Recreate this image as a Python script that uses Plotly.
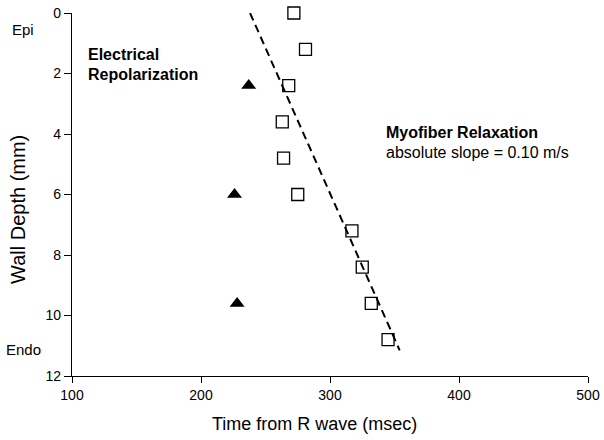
import plotly.graph_objects as go

# Data
myofiber_time = [272, 281, 268, 263, 264, 275, 317, 325, 332, 345]
myofiber_depth = [0.0, 1.2, 2.4, 3.6, 4.8, 6.0, 7.2, 8.4, 9.6, 10.8]
electrical_time = [237, 226, 228]
electrical_depth = [2.4, 6.0, 9.6]
fit_time = [238, 354]
fit_depth = [0.0, 11.15]

x_ticks = [100, 200, 300, 400, 500]
y_ticks = [0, 2, 4, 6, 8, 10, 12]

W, H = 604, 440
PL, PR, PT, PB = 72, 588, 13, 376          # plot area in window pixels
L, T, R, B = PL, PT, W - PR, H - PB
PW, PH = PR - PL, PB - PT


def px(x):
    return (x - PL) / PW


def py(y):
    return 1 - (y - PT) / PH


FONT = "Liberation Sans, Arial, sans-serif"

fig = go.Figure()
fig.add_trace(go.Scatter(
    x=fit_time, y=fit_depth, mode="lines", cliponaxis=False,
    line=dict(color="black", width=2, dash="8px,5px"),
    showlegend=False, hoverinfo="skip"))
fig.add_trace(go.Scatter(
    x=myofiber_time, y=myofiber_depth, mode="markers", cliponaxis=False,
    marker=dict(symbol="square-open", size=12, color="black", line=dict(width=1.3)),
    showlegend=False, name="Myofiber Relaxation"))
fig.add_trace(go.Scatter(
    x=electrical_time, y=electrical_depth, mode="markers", cliponaxis=False,
    marker=dict(symbol="triangle-up", size=13, color="black"),
    showlegend=False, name="Electrical Repolarization"))

ann = [
    dict(text="Epi", x=px(23), y=py(29), size=15, anchor="center"),
    dict(text="Endo", x=px(23), y=py(349), size=15, anchor="center"),
    dict(text="<b>Electrical</b>", x=px(86), y=py(54), size=16, anchor="left"),
    dict(text="<b>Repolarization</b>", x=px(86), y=py(74), size=16, anchor="left"),
    dict(text="<b>Myofiber Relaxation</b>", x=px(384), y=py(132), size=16, anchor="left"),
    dict(text="absolute slope = 0.10 m/s", x=px(384), y=py(152), size=16, anchor="left"),
]
for a in ann:
    fig.add_annotation(text=a["text"], x=a["x"], y=a["y"], xref="paper", yref="paper",
                       xanchor=a["anchor"], yanchor="middle", showarrow=False,
                       font=dict(family=FONT, size=a["size"], color="black"))

fig.add_annotation(text="Time from R wave (msec)", x=px(314), y=py(424), xref="paper", yref="paper",
                   xanchor="center", yanchor="middle", showarrow=False,
                   font=dict(family=FONT, size=18, color="black"))
fig.add_annotation(text="Wall Depth (mm)", x=px(18), y=py(210), xref="paper", yref="paper",
                   xanchor="center", yanchor="middle", showarrow=False, textangle=-90,
                   font=dict(family=FONT, size=20, color="black"))

fig.update_layout(
    width=W, height=H,
    margin=dict(l=L, r=R, t=T, b=B, autoexpand=False),
    paper_bgcolor="white", plot_bgcolor="white",
    font=dict(family=FONT, size=14, color="black"),
    xaxis=dict(range=[100, 500], tickvals=x_ticks, showgrid=False, zeroline=False,
               automargin=False, ticklabeloverflow="allow",
               showline=True, linecolor="black", linewidth=1.2,
               ticks="outside", ticklen=6, tickcolor="black", tickwidth=1.2,
               tickfont=dict(size=14)),
    yaxis=dict(range=[12, 0], tickvals=y_ticks, showgrid=False, zeroline=False,
               automargin=False, ticklabeloverflow="allow",
               showline=True, linecolor="black", linewidth=1.2,
               ticks="outside", ticklen=7, tickcolor="black", tickwidth=1.2,
               tickfont=dict(size=14)),
)

fig.write_html("out.html", config={"displayModeBar": False},
               post_script="document.body.style.margin='0';")
